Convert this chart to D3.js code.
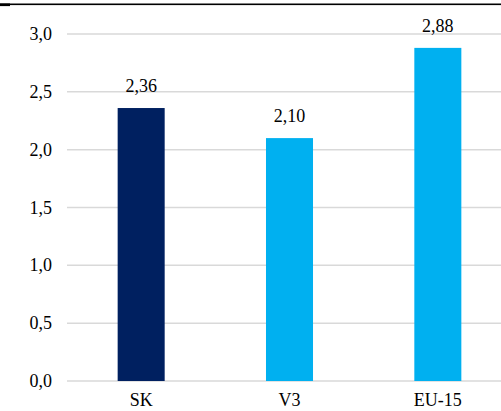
<!DOCTYPE html>
<html><head><meta charset="utf-8">
<script src="https://cdn.jsdelivr.net/npm/d3@7"></script>
<style>body{margin:0;background:#fff}svg{display:block}</style>
</head><body>
<svg id="c" width="501" height="411"></svg>
<script>
const categories = ["SK", "V3", "EU-15"];
const values = [2.36, 2.10, 2.88];
const barColors = ["#002060", "#00b0f0", "#00b0f0"];
const yTicks = [0, 0.5, 1.0, 1.5, 2.0, 2.5, 3.0];

const svg = d3.select("#c");
const fmt = v => d3.format(".1f")(v).replace(".", ",");
const fmt2 = v => d3.format(".2f")(v).replace(".", ",");
const font = "'Liberation Serif','Times New Roman',serif";

// top rule (cut-off heading)
svg.append("rect").attr("x", 0).attr("y", 3.5).attr("width", 501).attr("height", 1.6).attr("fill", "#000");
svg.append("rect").attr("x", 0).attr("y", 3.5).attr("width", 10).attr("height", 2.6).attr("fill", "#000");

const x = d3.scaleBand().domain(categories).range([67, 512]).paddingInner(0.683).paddingOuter(0.3415);
const y = d3.scaleLinear().domain([0, 3]).range([381, 34]);

// gridlines
svg.append("g").selectAll("line").data(yTicks).join("line")
  .attr("x1", 67).attr("x2", 501)
  .attr("y1", d => y(d)).attr("y2", d => y(d))
  .attr("stroke", "#d9d9d9").attr("stroke-width", 1.5);

// y tick labels
svg.append("g").selectAll("text").data(yTicks).join("text")
  .attr("x", 52).attr("y", d => y(d) + 6)
  .attr("text-anchor", "end")
  .attr("font-family", font).attr("font-size", 18).attr("fill", "#000")
  .text(fmt);

// bars
svg.append("g").selectAll("rect").data(values).join("rect")
  .attr("x", (d, i) => x(categories[i]))
  .attr("width", x.bandwidth())
  .attr("y", d => y(d))
  .attr("height", d => y(0) - y(d))
  .attr("fill", (d, i) => barColors[i]);

// value labels
svg.append("g").selectAll("text").data(values).join("text")
  .attr("x", (d, i) => x(categories[i]) + x.bandwidth() / 2)
  .attr("y", d => y(d) - 16)
  .attr("text-anchor", "middle")
  .attr("font-family", font).attr("font-size", 18).attr("fill", "#000")
  .text(fmt2);

// category labels
svg.append("g").selectAll("text").data(categories).join("text")
  .attr("x", d => x(d) + x.bandwidth() / 2)
  .attr("y", 406)
  .attr("text-anchor", "middle")
  .attr("font-family", font).attr("font-size", 18).attr("fill", "#000")
  .text(d => d);
</script>
</body></html>
